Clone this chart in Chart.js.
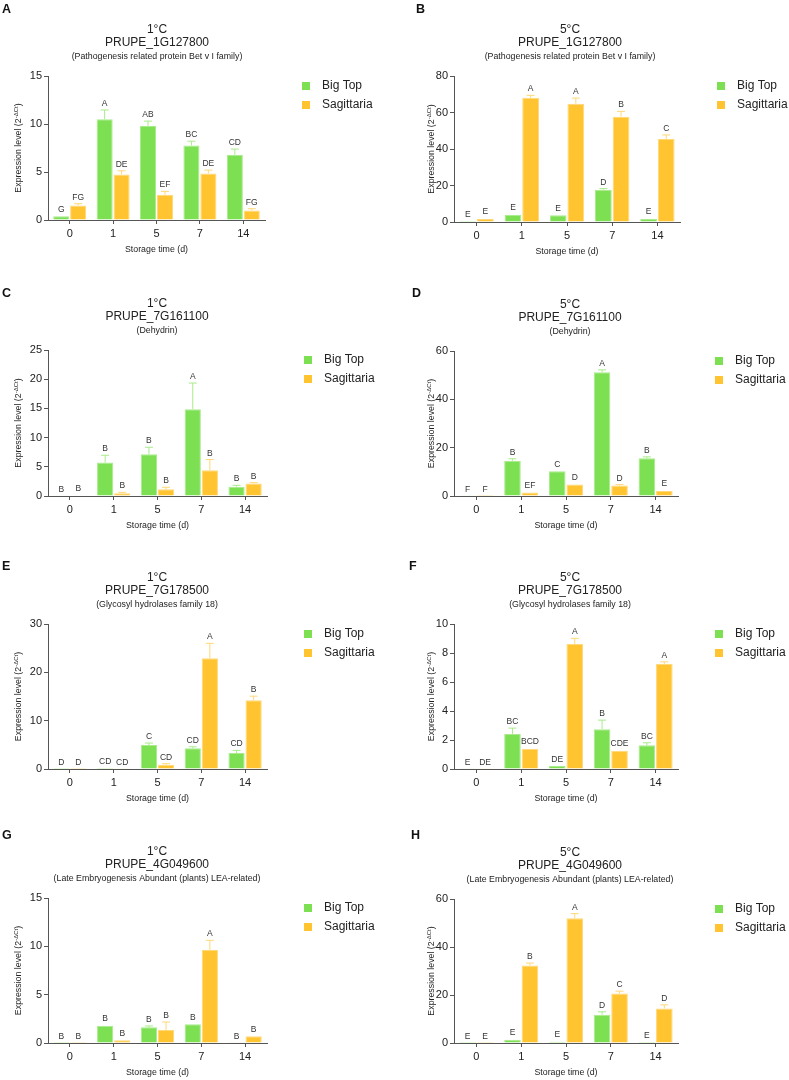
<!DOCTYPE html>
<html>
<head>
<meta charset="utf-8">
<script src="https://cdn.jsdelivr.net/npm/chart.js@4.4.1/dist/chart.umd.min.js"></script>
<style>
  body { margin: 0; background: #fff; }
  #wrap { position: relative; width: 789px; height: 1080px; }
  canvas { position: absolute; }
</style>
</head>
<body>
<div id="wrap">
  <canvas id="pA" width="394" height="270" style="left:0;top:0"></canvas>
  <canvas id="pB" width="394" height="270" style="left:395px;top:0"></canvas>
  <canvas id="pC" width="394" height="270" style="left:0;top:270px"></canvas>
  <canvas id="pD" width="394" height="270" style="left:395px;top:270px"></canvas>
  <canvas id="pE" width="394" height="270" style="left:0;top:540px"></canvas>
  <canvas id="pF" width="394" height="270" style="left:395px;top:540px"></canvas>
  <canvas id="pG" width="394" height="270" style="left:0;top:810px"></canvas>
  <canvas id="pH" width="394" height="270" style="left:395px;top:810px"></canvas>
</div>
<script>
const days = ['0', '1', '5', '7', '14'];
const seriesNames = ['Big Top', 'Sagittaria'];

// A - 1°C PRUPE_1G127800
const bigTopA = [0.38, 10.5, 9.8, 7.76, 6.79];
const bigTopErrA = [0.07, 0.96, 0.5, 0.45, 0.6];
const bigTopLetA = ['G', 'A', 'AB', 'BC', 'CD'];
const sagA = [1.52, 4.75, 2.63, 4.85, 1.0];
const sagErrA = [0.18, 0.38, 0.35, 0.35, 0.18];
const sagLetA = ['FG', 'DE', 'EF', 'DE', 'FG'];

// B - 5°C PRUPE_1G127800
const bigTopB = [0.5, 4.0, 3.65, 17.7, 1.8];
const bigTopErrB = [0.1, 0.4, 0.3, 0.6, 0.4];
const bigTopLetB = ['E', 'E', 'E', 'D', 'E'];
const sagB = [1.6, 68.1, 64.8, 57.7, 45.5];
const sagErrB = [0.4, 1.3, 3.1, 2.9, 2.2];
const sagLetB = ['E', 'A', 'A', 'B', 'C'];

// C - 1°C PRUPE_7G161100
const bigTopC = [0.05, 5.72, 7.15, 14.87, 1.6];
const bigTopErrC = [0.02, 1.26, 1.2, 4.47, 0.23];
const bigTopLetC = ['B', 'B', 'B', 'A', 'B'];
const sagC = [0.1, 0.46, 1.14, 4.4, 2.12];
const sagErrC = [0.02, 0.17, 0.35, 1.84, 0.17];
const sagLetC = ['B', 'B', 'B', 'B', 'B'];

// D - 5°C PRUPE_7G161100
const bigTopD = [0.15, 14.6, 10.2, 51.2, 15.6];
const bigTopErrD = [0.05, 0.8, 0.3, 1.0, 0.6];
const bigTopLetD = ['F', 'B', 'C', 'A', 'B'];
const sagD = [0.05, 1.5, 4.8, 4.3, 2.1];
const sagErrD = [0.02, 0.3, 0.3, 0.4, 0.2];
const sagLetD = ['F', 'EF', 'D', 'D', 'E'];

// E - 1°C PRUPE_7G178500
const bigTopE = [0.02, 0.2, 4.96, 4.27, 3.3];
const bigTopErrE = [0.01, 0.05, 0.41, 0.33, 0.55];
const bigTopLetE = ['D', 'CD', 'C', 'CD', 'CD'];
const sagE = [0.02, 0.03, 0.9, 22.9, 14.25];
const sagErrE = [0.01, 0.01, 0.2, 3.1, 0.82];
const sagLetE = ['D', 'CD', 'CD', 'A', 'B'];

// F - 5°C PRUPE_7G178500
const bigTopF = [0.01, 2.41, 0.2, 2.75, 1.63];
const bigTopErrF = [0.0, 0.41, 0.03, 0.62, 0.18];
const bigTopLetF = ['E', 'BC', 'DE', 'B', 'BC'];
const sagF = [0.01, 1.4, 8.62, 1.26, 7.25];
const sagErrF = [0.0, 0.05, 0.39, 0.04, 0.14];
const sagLetF = ['DE', 'BCD', 'A', 'CDE', 'A'];

// G - 1°C PRUPE_4G049600
const bigTopG = [0.01, 1.79, 1.62, 1.93, 0.02];
const bigTopErrG = [0.0, 0.04, 0.14, 0.07, 0.0];
const bigTopLetG = ['B', 'B', 'B', 'B', 'B'];
const sagG = [0.01, 0.28, 1.34, 9.62, 0.69];
const sagErrG = [0.0, 0.06, 0.83, 1.0, 0.07];
const sagLetG = ['B', 'B', 'B', 'A', 'B'];

// H - 5°C PRUPE_4G049600
const bigTopH = [0.02, 1.4, 0.55, 11.8, 0.45];
const bigTopErrH = [0.0, 0.26, 0.1, 1.2, 0.1];
const bigTopLetH = ['E', 'E', 'E', 'D', 'E'];
const sagH = [0.02, 32.3, 52.0, 20.6, 14.4];
const sagErrH = [0.0, 1.0, 1.9, 1.0, 1.5];
const sagLetH = ['E', 'B', 'A', 'C', 'D'];

const green = '#7ddf52';
const greenLight = '#a9eb8b';
const orange = '#ffc430';
const orangeLight = '#ffd877';
const FONT = "'Liberation Sans', Arial, sans-serif";
Chart.defaults.font.family = FONT;

const panels = [
  { id: 'pA', letter: 'A', temp: '1°C', gene: 'PRUPE_1G127800', desc: '(Pathogenesis related protein Bet v I family)',
    bt: bigTopA, btErr: bigTopErrA, btLet: bigTopLetA, sg: sagA, sgErr: sagErrA, sgLet: sagLetA, max: 15, step: 5,
    box: { left: 48, top: 76, right: 265, bottom: 220 }, titleX: 157, letterX: 2, letterY: 13, yTitleX: 18 },
  { id: 'pB', letter: 'B', temp: '5°C', gene: 'PRUPE_1G127800', desc: '(Pathogenesis related protein Bet v I family)',
    bt: bigTopB, btErr: bigTopErrB, btLet: bigTopLetB, sg: sagB, sgErr: sagErrB, sgLet: sagLetB, max: 80, step: 20,
    box: { left: 59, top: 76, right: 285, bottom: 222 }, titleX: 175, letterX: 21, letterY: 13, yTitleX: 36 },
  { id: 'pC', letter: 'C', temp: '1°C', gene: 'PRUPE_7G161100', desc: '(Dehydrin)',
    bt: bigTopC, btErr: bigTopErrC, btLet: bigTopLetC, sg: sagC, sgErr: sagErrC, sgLet: sagLetC, max: 25, step: 5,
    box: { left: 48, top: 80, right: 267, bottom: 226 }, titleX: 157, letterX: 2, letterY: 27, yTitleX: 18 },
  { id: 'pD', letter: 'D', temp: '5°C', gene: 'PRUPE_7G161100', desc: '(Dehydrin)',
    bt: bigTopD, btErr: bigTopErrD, btLet: bigTopLetD, sg: sagD, sgErr: sagErrD, sgLet: sagLetD, max: 60, step: 20,
    box: { left: 59, top: 81, right: 283, bottom: 226 }, titleX: 175, letterX: 17, letterY: 27, yTitleX: 36 },
  { id: 'pE', letter: 'E', temp: '1°C', gene: 'PRUPE_7G178500', desc: '(Glycosyl hydrolases family 18)',
    bt: bigTopE, btErr: bigTopErrE, btLet: bigTopLetE, sg: sagE, sgErr: sagErrE, sgLet: sagLetE, max: 30, step: 10,
    box: { left: 48, top: 84, right: 267, bottom: 229 }, titleX: 157, letterX: 2, letterY: 30, yTitleX: 18 },
  { id: 'pF', letter: 'F', temp: '5°C', gene: 'PRUPE_7G178500', desc: '(Glycosyl hydrolases family 18)',
    bt: bigTopF, btErr: bigTopErrF, btLet: bigTopLetF, sg: sagF, sgErr: sagErrF, sgLet: sagLetF, max: 10, step: 2,
    box: { left: 59, top: 84, right: 283, bottom: 229 }, titleX: 175, letterX: 14, letterY: 30, yTitleX: 36 },
  { id: 'pG', letter: 'G', temp: '1°C', gene: 'PRUPE_4G049600', desc: '(Late Embryogenesis Abundant (plants) LEA-related)',
    bt: bigTopG, btErr: bigTopErrG, btLet: bigTopLetG, sg: sagG, sgErr: sagErrG, sgLet: sagLetG, max: 15, step: 5,
    box: { left: 48, top: 88, right: 267, bottom: 233 }, titleX: 157, letterX: 2, letterY: 29, yTitleX: 18 },
  { id: 'pH', letter: 'H', temp: '5°C', gene: 'PRUPE_4G049600', desc: '(Late Embryogenesis Abundant (plants) LEA-related)',
    bt: bigTopH, btErr: bigTopErrH, btLet: bigTopLetH, sg: sagH, sgErr: sagErrH, sgLet: sagLetH, max: 60, step: 20,
    box: { left: 59, top: 89, right: 283, bottom: 233 }, titleX: 175, letterX: 16, letterY: 29, yTitleX: 36 }
];

// error bars (upper half only) and significance letters
const errorLetters = {
  id: 'errorLetters',
  afterDatasetsDraw(chart) {
    const ctx = chart.ctx;
    const yScale = chart.scales.y;
    ctx.save();
    chart.data.datasets.forEach((ds, i) => {
      const meta = chart.getDatasetMeta(i);
      meta.data.forEach((bar, j) => {
        const v = ds.data[j];
        const e = ds.errors[j];
        const yTop = yScale.getPixelForValue(v + e);
        if (bar.y - yTop > 0.8) {
          ctx.strokeStyle = ds.errColor;
          ctx.lineWidth = 1;
          ctx.beginPath();
          ctx.moveTo(bar.x, bar.y);
          ctx.lineTo(bar.x, yTop);
          ctx.moveTo(bar.x - 4, yTop);
          ctx.lineTo(bar.x + 4, yTop);
          ctx.stroke();
        }
        ctx.fillStyle = '#333';
        ctx.font = '8.5px ' + FONT;
        ctx.textAlign = 'center';
        ctx.textBaseline = 'alphabetic';
        ctx.fillText(ds.letters[j], bar.x, Math.min(yTop, bar.y) - 4);
      });
    });
    ctx.restore();
  }
};

// titles, axis titles, legend, panel letter
const decorations = {
  id: 'decorations',
  afterDraw(chart) {
    const p = chart.options.plugins.decorations;
    const a = chart.chartArea;
    const ctx = chart.ctx;
    ctx.save();
    ctx.fillStyle = '#222';
    ctx.textAlign = 'center';
    ctx.textBaseline = 'middle';
    ctx.font = '12px ' + FONT;
    ctx.fillText(p.temp, p.titleX, a.top - 46);
    ctx.fillText(p.gene, p.titleX, a.top - 33);
    ctx.font = '8.8px ' + FONT;
    ctx.fillText(p.desc, p.titleX, a.top - 19);

    // x axis title
    ctx.fillText('Storage time (d)', (a.left + a.right) / 2, a.bottom + 30);

    // y axis title with superscript
    const main = 'Expression level (2';
    const sup = '-ΔCt';
    const close = ')';
    ctx.font = '8.8px ' + FONT;
    const w1 = ctx.measureText(main).width;
    const w3 = ctx.measureText(close).width;
    ctx.font = '6px ' + FONT;
    const w2 = ctx.measureText(sup).width;
    const total = w1 + w2 + w3;
    ctx.translate(p.yTitleX, (a.top + a.bottom) / 2);
    ctx.rotate(-Math.PI / 2);
    ctx.textAlign = 'left';
    ctx.textBaseline = 'alphabetic';
    ctx.font = '8.8px ' + FONT;
    ctx.fillText(main, -total / 2, 3);
    ctx.font = '6px ' + FONT;
    ctx.fillText(sup, -total / 2 + w1, -0.5);
    ctx.font = '8.8px ' + FONT;
    ctx.fillText(close, -total / 2 + w1 + w2, 3);
    ctx.setTransform(1, 0, 0, 1, 0, 0);

    // legend
    const sqX = a.right + 37;
    [[seriesNames[0], green, a.top + 10], [seriesNames[1], orange, a.top + 29]].forEach(([name, col, y]) => {
      ctx.fillStyle = col;
      ctx.fillRect(sqX, y - 4, 8, 8);
      ctx.fillStyle = '#222';
      ctx.font = '12px ' + FONT;
      ctx.textAlign = 'left';
      ctx.textBaseline = 'middle';
      ctx.fillText(name, sqX + 20, y);
    });

    // panel letter
    ctx.fillStyle = '#111';
    ctx.font = 'bold 12.5px ' + FONT;
    ctx.textAlign = 'left';
    ctx.textBaseline = 'alphabetic';
    ctx.fillText(p.letter, p.letterX, p.letterY);
    ctx.restore();
  }
};

panels.forEach(p => {
  const W = 394, H = 270;
  const b = p.box;
  new Chart(document.getElementById(p.id), {
    type: 'bar',
    data: {
      labels: days,
      datasets: [
        { label: seriesNames[0], data: p.bt, errors: p.btErr, letters: p.btLet,
          backgroundColor: green, borderColor: greenLight, borderWidth: 1, errColor: greenLight,
          categoryPercentage: 0.78, barPercentage: 0.95 },
        { label: seriesNames[1], data: p.sg, errors: p.sgErr, letters: p.sgLet,
          backgroundColor: orange, borderColor: orangeLight, borderWidth: 1, errColor: orangeLight,
          categoryPercentage: 0.78, barPercentage: 0.95 }
      ]
    },
    options: {
      responsive: false,
      animation: false,
      layout: { padding: { left: 0, top: b.top, right: W - b.right, bottom: 0 } },
      plugins: {
        legend: { display: false },
        title: { display: false },
        tooltip: { enabled: false },
        decorations: p
      },
      scales: {
        x: {
          offset: true,
          grid: { display: true, drawOnChartArea: false, offset: false, tickLength: 4, color: '#555' },
          border: { display: true, color: '#555', width: 1 },
          ticks: { color: '#222', font: { size: 11 }, padding: 3, maxRotation: 0 },
          afterFit(scale) { scale.height = H - b.bottom; }
        },
        y: {
          min: 0,
          max: p.max,
          grid: { display: true, drawOnChartArea: false, tickLength: 4, color: '#555' },
          border: { display: true, color: '#555', width: 1 },
          ticks: { stepSize: p.step, color: '#222', font: { size: 11 }, padding: 2 },
          afterFit(scale) { scale.width = b.left; }
        }
      }
    },
    plugins: [errorLetters, decorations]
  });
});
</script>
</body>
</html>
